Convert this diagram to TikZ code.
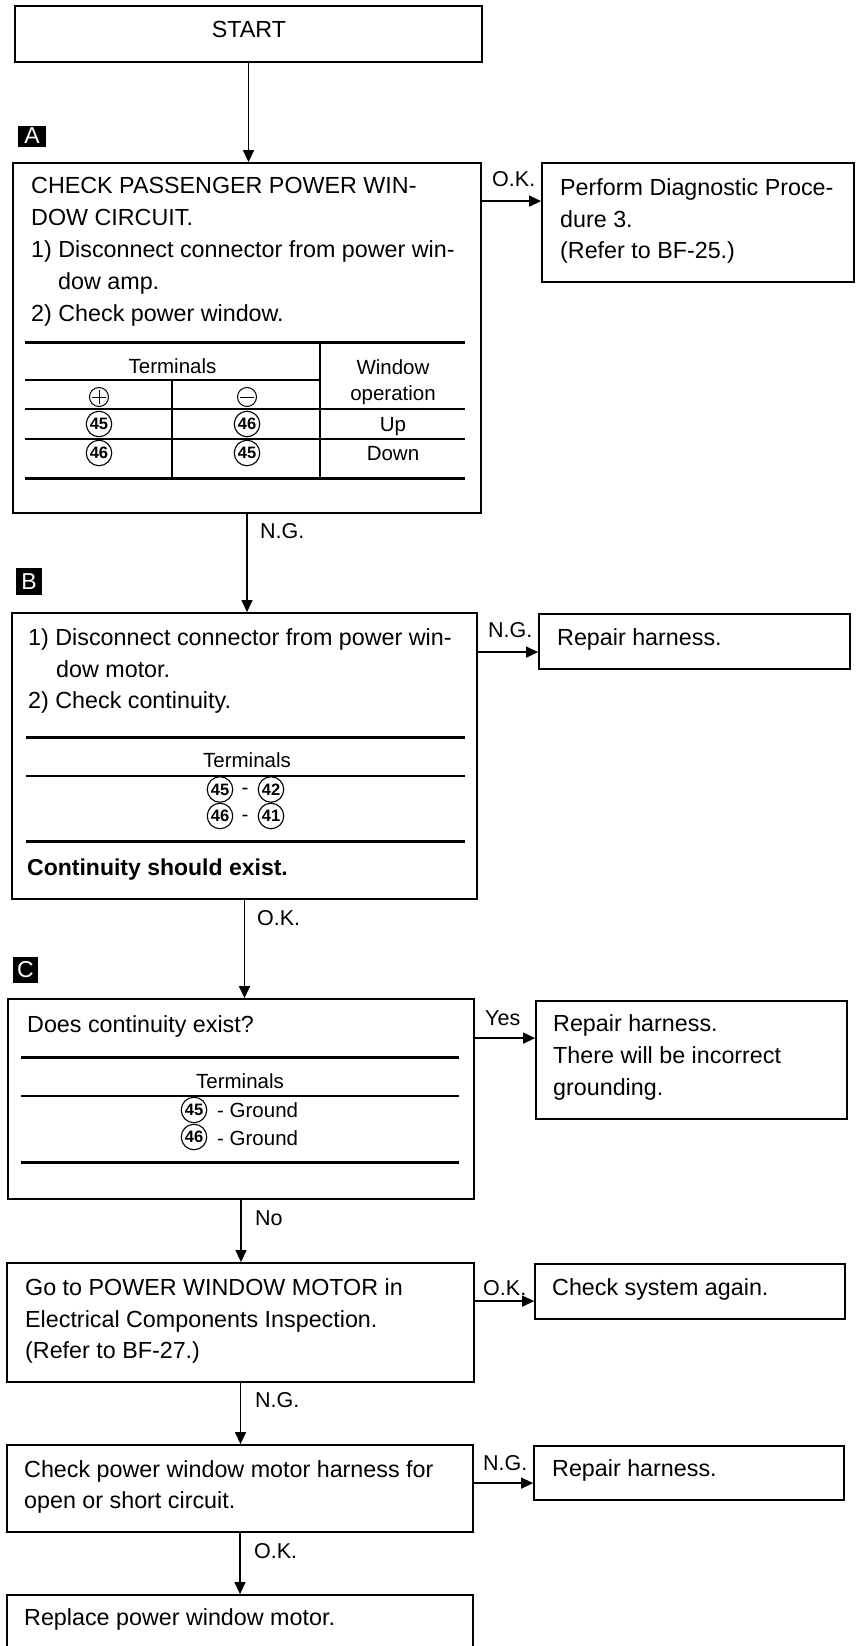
\documentclass[tikz,border=0pt]{standalone}
\usepackage{fontspec}
\setmainfont{Liberation Sans}
\usetikzlibrary{arrows.meta}
\begin{document}
\begin{tikzpicture}[x=1bp,y=-1bp,
  box/.style={draw, line width=1.8bp, inner sep=0, rectangle},
  arr/.style={line width=1.3bp, -{Triangle[length=12bp,width=11bp]}},
  txt/.style={anchor=base west, inner sep=0, font=\fontsize{23.3bp}{32bp}\selectfont},
  lbl/.style={anchor=base west, inner sep=0, font=\fontsize{21.5bp}{24bp}\selectfont},
  tab/.style={anchor=base, inner sep=0, font=\fontsize{20.5bp}{24bp}\selectfont},
  tabw/.style={anchor=base west, inner sep=0, font=\fontsize{20.5bp}{24bp}\selectfont},
  cnum/.style={circle, draw, line width=1.1bp, inner sep=0, minimum size=25.5bp, font=\bfseries\fontsize{16.5bp}{17bp}\selectfont},
  sign/.style={circle, draw, line width=1bp, inner sep=0, minimum size=19bp},
  tag/.style={fill=black, text=white, inner sep=0, font=\fontsize{23bp}{23bp}\selectfont},
  thickrule/.style={line width=3bp},
  thinrule/.style={line width=1.2bp}]
\useasboundingbox (0,0) rectangle (856,1646);
\clip (0,0) rectangle (856,1646);

% ---------- boxes ----------
\node[box, minimum width=467bp, minimum height=56bp] (start) at (248.5,34) {};
\node[box, minimum width=468bp, minimum height=350bp] (A) at (247,338) {};
\node[box, minimum width=465bp, minimum height=286bp] (B) at (244.5,756) {};
\node[box, minimum width=466bp, minimum height=200bp] (C) at (241,1099) {};
\node[box, minimum width=467bp, minimum height=119bp] (D) at (240.5,1322.5) {};
\node[box, minimum width=466bp, minimum height=87bp] (E) at (240,1488.5) {};
\node[box, minimum width=466bp, minimum height=105bp] (F) at (240,1647.5) {};
\node[box, minimum width=312bp, minimum height=119bp] (R1) at (698,222.5) {};
\node[box, minimum width=311bp, minimum height=55bp] (R2) at (694.5,641.5) {};
\node[box, minimum width=311bp, minimum height=118bp] (R3) at (691.5,1060) {};
\node[box, minimum width=310bp, minimum height=55bp] (R4) at (690,1291.5) {};
\node[box, minimum width=310bp, minimum height=54bp] (R5) at (689,1473) {};

% ---------- section tags ----------
\node[tag, minimum width=28bp, minimum height=21bp] (tagA) at (32,136) {A};
\node[tag, minimum width=26bp, minimum height=27bp] (tagB) at (29,581.5) {B};
\node[tag, minimum width=25bp, minimum height=26bp] (tagC) at (25.5,970) {C};

% ---------- texts ----------
\node[anchor=base, inner sep=0, font=\fontsize{23.3bp}{32bp}\selectfont] (tstart) at (249,38) {START};

\node[txt] (ta1) at (31,193) {CHECK PASSENGER POWER WIN-};
\node[txt] (ta2) at (31,225) {DOW CIRCUIT.};
\node[txt] (ta3) at (31,257) {1) Disconnect connector from power win-};
\node[txt] (ta4) at (58,289) {dow amp.};
\node[txt] (ta5) at (31,321) {2) Check power window.};

\node[txt] (tr1a) at (560,195) {Perform Diagnostic Proce-};
\node[txt] (tr1b) at (560,227) {dure 3.};
\node[txt] (tr1c) at (560,258) {(Refer to BF-25.)};

\node[txt] (tb1) at (28,645) {1) Disconnect connector from power win-};
\node[txt] (tb2) at (56,677) {dow motor.};
\node[txt] (tb3) at (28,708) {2) Check continuity.};
\node[txt, font=\bfseries\fontsize{23bp}{32bp}\selectfont] (tb4) at (27,875) {Continuity should exist.};

\node[txt] (tr2) at (557,645) {Repair harness.};

\node[txt] (tc1) at (27,1032) {Does continuity exist?};

\node[txt] (tr3a) at (553,1031) {Repair harness.};
\node[txt] (tr3b) at (553,1063) {There will be incorrect};
\node[txt] (tr3c) at (553,1095) {grounding.};

\node[txt] (td1) at (25,1295) {Go to POWER WINDOW MOTOR in};
\node[txt] (td2) at (25,1327) {Electrical Components Inspection.};
\node[txt] (td3) at (25,1358) {(Refer to BF-27.)};

\node[txt] (tr4) at (552,1295) {Check system again.};

\node[txt] (te1) at (24,1477) {Check power window motor harness for};
\node[txt] (te2) at (24,1508) {open or short circuit.};

\node[txt] (tr5) at (552,1476) {Repair harness.};

\node[txt] (tf1) at (24,1625) {Replace power window motor.};

% ---------- table in A ----------
\draw[thickrule] (25,342) -- (465,342);
\draw[thinrule] (25,380) -- (320,380);
\draw[thinrule] (25,409) -- (465,409);
\draw[line width=1.6bp] (25,439) -- (465,439);
\draw[thickrule] (25,478) -- (465,478);
\draw[thinrule] (320,342) -- (320,478);
\draw[thinrule] (172,380) -- (172,478);
\node[tab] (aterm) at (172.5,373) {Terminals};
\node[tab] (awin) at (393,374) {Window};
\node[tab] (aop) at (393,400) {operation};
\node[sign] (plus) at (99,397) {};
\draw[line width=1bp] ([xshift=3bp]plus.west) -- ([xshift=-3bp]plus.east)
                      ([yshift=-3bp]plus.north) -- ([yshift=3bp]plus.south);
\node[sign] (minus) at (247,397) {};
\draw[line width=1bp] ([xshift=3bp]minus.west) -- ([xshift=-3bp]minus.east);
\node[cnum] (a11) at (99,424) {45};
\node[cnum] (a12) at (247,424) {46};
\node[tab] (aup) at (393,431) {Up};
\node[cnum] (a21) at (99,453) {46};
\node[cnum] (a22) at (247,453) {45};
\node[tab] (adown) at (393,460) {Down};

% ---------- table in B ----------
\draw[thickrule] (26,737) -- (465,737);
\node[tab] (bterm) at (247,767) {Terminals};
\draw[thinrule] (26,776) -- (465,776);
\node[cnum] (b11) at (220,789.5) {45};
\node[tab, anchor=center] (bd1) at (245,791) {-};
\node[cnum] (b12) at (271,789.5) {42};
\node[cnum] (b21) at (220,816) {46};
\node[tab, anchor=center] (bd2) at (245,818) {-};
\node[cnum] (b22) at (271,816) {41};
\draw[thickrule] (26,841) -- (465,841);

% ---------- table in C ----------
\draw[thickrule] (21,1057) -- (459,1057);
\node[tab] (cterm) at (240,1088) {Terminals};
\draw[thinrule] (21,1096) -- (459,1096);
\node[cnum] (c1) at (194,1110) {45};
\node[tabw] (cg1) at (217,1117) {- Ground};
\node[cnum] (c2) at (194,1137) {46};
\node[tabw] (cg2) at (217,1145) {- Ground};
\draw[thickrule] (21,1162) -- (459,1162);

% ---------- vertical connectors ----------
\draw[arr] (start.south) -- (start.south |- A.north);
\draw[arr] (A.south) -- (A.south |- B.north);
\draw[arr] (B.south) -- (B.south |- C.north);
\draw[arr] (C.south) -- (C.south |- D.north);
\draw[arr] (D.south) -- (D.south |- E.north);
\draw[arr] (E.south) -- (E.south |- F.north);

\node[lbl] (lab1) at (260,538) {N.G.};
\node[lbl] (lbc) at (257,925) {O.K.};
\node[lbl] (lcd) at (255,1225) {No};
\node[lbl] (lde) at (255,1407) {N.G.};
\node[lbl] (lef) at (254,1558) {O.K.};

% ---------- horizontal connectors ----------
\draw[arr] ([yshift=-39bp]A.north east) -- ([yshift=-39bp]A.north east -| R1.west);
\draw[arr] ([yshift=-40bp]B.north east) -- ([yshift=-40bp]B.north east -| R2.west);
\draw[arr] ([yshift=-40bp]C.north east) -- ([yshift=-40bp]C.north east -| R3.west);
\draw[arr] ([yshift=-39bp]D.north east) -- ([yshift=-39bp]D.north east -| R4.west);
\draw[arr] ([yshift=-39bp]E.north east) -- ([yshift=-39bp]E.north east -| R5.west);

\node[lbl] (lar1) at (492,186) {O.K.};
\node[lbl] (lbr2) at (488,637) {N.G.};
\node[lbl] (lcr3) at (485,1025) {Yes};
\node[lbl] (ldr4) at (483,1295) {O.K.};
\node[lbl] (ler5) at (483,1470) {N.G.};
\end{tikzpicture}
\end{document}
